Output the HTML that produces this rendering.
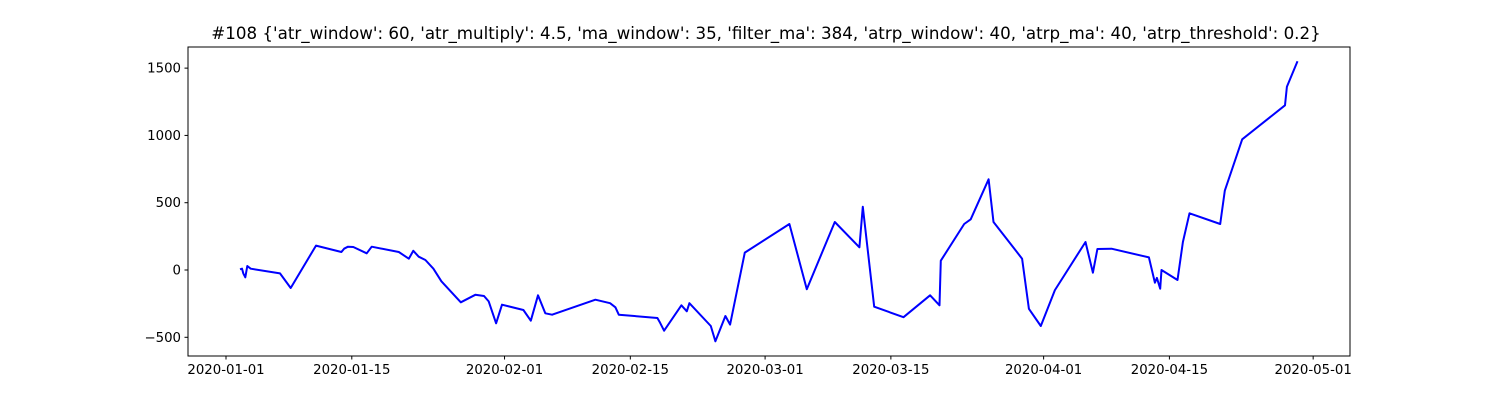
<!DOCTYPE html>
<html><head><meta charset="utf-8"><style>
html,body{margin:0;padding:0;background:#fff;}
svg{display:block;font-family:"DejaVu Sans","Liberation Sans",sans-serif;}
</style></head><body>
<svg id="chart" width="1500" height="400" viewBox="0 0 1500 400" xmlns="http://www.w3.org/2000/svg">
<rect width="1500" height="400" fill="#fff"/>
<text x="766" y="39" text-anchor="middle" font-size="16.7">#108 {'atr_window': 60, 'atr_multiply': 4.5, 'ma_window': 35, 'filter_ma': 384, 'atrp_window': 40, 'atrp_ma': 40, 'atrp_threshold': 0.2}</text>
<g id="plot"></g>
<rect x="188" y="47" width="1162" height="309" fill="none" stroke="#000" stroke-width="1"/>
</svg>
<script>
// days since 2020-01-01
const days = [1.56,1.78,1.93,2.15,2.37,2.75,6.01,7.2,10.02,12.84,13.14,13.58,14.17,15.66,16.22,19.23,20.34,20.85,21.45,22.19,23.08,23.97,26.13,27.75,28.72,29.24,30.06,30.72,33.1,33.92,34.73,35.54,36.29,41.11,42.75,43.34,43.72,48.01,48.31,48.76,50.68,51.29,51.58,53.96,54.47,55.58,56.11,57.74,62.71,64.64,67.76,70.5,70.88,72.14,75.4,78.37,79.41,79.56,82.16,82.88,84.88,85.42,88.61,89.36,90.69,92.25,95.66,96.48,96.99,98.55,102.72,103.38,103.61,103.97,104.12,105.9,106.5,107.24,110.65,111.17,113.1,117.86,118.08,119.26];
const values = [5,10,-25,-54,30,10,-25,-134,181,134,158,173,171,124,173,134,84,143,99,74,10,-84,-240,-184,-193,-233,-396,-258,-297,-377,-188,-322,-332,-221,-247,-277,-332,-357,-392,-451,-262,-307,-247,-416,-530,-342,-406,129,342,-143,357,169,470,-273,-351,-188,-262,69,342,377,674,357,84,-288,-416,-149,208,-20,156,158,94,-94,-59,-139,0,-74,208,421,342,589,971,1224,1362,1551];
const yTicks = [-500,0,500,1000,1500];
const xTickDays = [0,14,31,45,60,74,91,105,121];
const xTickLabels = ['2020-01-01','2020-01-15','2020-02-01','2020-02-15','2020-03-01','2020-03-15','2020-04-01','2020-04-15','2020-05-01'];

const X0=188,X1=1350,Y0=47,Y1=356;
const dMin=-4.23,dMax=125.1,vMin=-639,vMax=1657;
const xs=d=>X0+(d-dMin)/(dMax-dMin)*(X1-X0);
const ys=v=>Y1-(v-vMin)/(vMax-vMin)*(Y1-Y0);
const NS='http://www.w3.org/2000/svg';
const g=document.getElementById('plot');
function mk(t,a){const e=document.createElementNS(NS,t);for(const k in a)e.setAttribute(k,a[k]);return e;}

yTicks.forEach(v=>{
  const y=ys(v);
  const t=mk('line',{x1:X0-3.5,x2:X0,y1:y,y2:y,stroke:'#000'});
  
  
  g.appendChild(t);
  const l=mk('text',{x:X0-7,y:y+4.5,'text-anchor':'end','font-size':'13.3'});
  
  
  l.textContent=v<0?'\u2212'+Math.abs(v):String(v);
  g.appendChild(l);
});
xTickDays.forEach((d,i)=>{
  const x=xs(d);
  const t=mk('line',{x1:x,x2:x,y1:Y1,y2:Y1+3.5,stroke:'#000'});
  
  
  g.appendChild(t);
  const l=mk('text',{x:x,y:Y1+18,'text-anchor':'middle','font-size':'13.3'});
  
  
  l.textContent=xTickLabels[i];
  g.appendChild(l);
});
const pts=days.map((d,i)=>xs(d).toFixed(1)+','+ys(values[i]).toFixed(1)).join(' ');
const line=mk('polyline',{points:pts,fill:'none',stroke:'#0000ff','stroke-width':'2','stroke-linejoin':'round'});


g.appendChild(line);
</script>
</body></html>
